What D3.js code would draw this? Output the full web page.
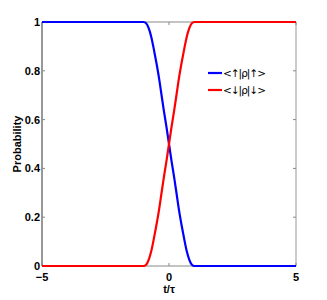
<!DOCTYPE html>
<html><head><meta charset="utf-8">
<script src="https://cdn.jsdelivr.net/npm/d3@7"></script>
<style>body{margin:0;background:#fff}svg text{font-family:"Liberation Sans",Arial,sans-serif}</style>
</head><body>
<svg id="c" width="327" height="300"></svg>
<script>
const tVals = [-5,-1,-0.9,-0.8,-0.7,-0.6,-0.5,-0.4,-0.3,-0.2,-0.1,0,0.1,0.2,0.3,0.4,0.5,0.6,0.7,0.8,0.9,1,5];
const upUp = [1,1,0.995,0.975,0.94,0.89,0.835,0.775,0.705,0.635,0.57,0.50,0.43,0.365,0.295,0.225,0.165,0.11,0.06,0.025,0.005,0,0];
const downDown = [0,0,0.005,0.025,0.06,0.11,0.165,0.225,0.295,0.365,0.43,0.50,0.57,0.635,0.705,0.775,0.835,0.89,0.94,0.975,0.995,1,1];
const xTicks = [-5,0,5];
const yTicks = [0,0.2,0.4,0.6,0.8,1];
const seriesNames = ["<\u2191|\u03c1|\u2191>","<\u2193|\u03c1|\u2193>"];
const seriesColors = ["#0000ff","#ff0000"];

const svg = d3.select("#c");
const L=42,R=296,T=22,B=266;
const x = d3.scaleLinear().domain([-5,5]).range([L,R]);
const y = d3.scaleLinear().domain([0,1]).range([B,T]);

svg.append("line").attr("x1",L).attr("x2",R).attr("y1",T).attr("y2",T).attr("stroke","#888").attr("stroke-width",1);
svg.append("line").attr("x1",R).attr("x2",R).attr("y1",T).attr("y2",B).attr("stroke","#999").attr("stroke-width",1);
svg.append("line").attr("x1",L).attr("x2",R).attr("y1",B).attr("y2",B).attr("stroke","#888").attr("stroke-width",1);
svg.append("line").attr("x1",L).attr("x2",L).attr("y1",T).attr("y2",B).attr("stroke","#333").attr("stroke-width",1);

xTicks.forEach(v=>{
  svg.append("line").attr("x1",x(v)).attr("x2",x(v)).attr("y1",B).attr("y2",B-3).attr("stroke","#888");
  svg.append("line").attr("x1",x(v)).attr("x2",x(v)).attr("y1",T).attr("y2",T+3).attr("stroke","#888");
});
yTicks.forEach(v=>{
  svg.append("line").attr("x1",L).attr("x2",L+3).attr("y1",y(v)).attr("y2",y(v)).attr("stroke","#888");
  svg.append("line").attr("x1",R).attr("x2",R-3).attr("y1",y(v)).attr("y2",y(v)).attr("stroke","#888");
});

const fmt = d3.format("~g");
svg.selectAll(".yl").data(yTicks).enter().append("text")
  .attr("x",L-2).attr("y",d=>y(d)+4).attr("text-anchor","end")
  .attr("font-size",11).attr("font-weight","bold").text(d=>fmt(d).replace("-","\u2212"));
svg.selectAll(".xl").data(xTicks).enter().append("text")
  .attr("x",d=>x(d)).attr("y",281).attr("text-anchor","middle")
  .attr("font-size",11).attr("font-weight","bold").text(d=>fmt(d).replace("-","\u2212"));

svg.append("text").attr("x",x(0)).attr("y",293).attr("text-anchor","middle")
  .attr("font-size",11).attr("font-weight","bold").text("t/\u03c4");
svg.append("text").attr("transform","translate(21,144) rotate(-90)").attr("text-anchor","middle")
  .attr("font-size",11).attr("font-weight","bold").text("Probability");

const line = d3.line().x((d,i)=>x(tVals[i])).y(d=>y(d)).curve(d3.curveMonotoneX);
[upUp,downDown].forEach((s,k)=>{
  svg.append("path").attr("d",line(s)).attr("fill","none").attr("stroke",seriesColors[k]).attr("stroke-width",2.2);
});

seriesNames.forEach((n,k)=>{
  const ly = 73 + k*17;
  svg.append("line").attr("x1",208).attr("x2",222).attr("y1",ly).attr("y2",ly).attr("stroke",seriesColors[k]).attr("stroke-width",2.2);
  svg.append("text").attr("x",223).attr("y",ly+4).attr("font-size",10.5).attr("letter-spacing",-1)
    .style("font-family","'DejaVu Sans',sans-serif").text(n);
});
</script>
</body></html>
